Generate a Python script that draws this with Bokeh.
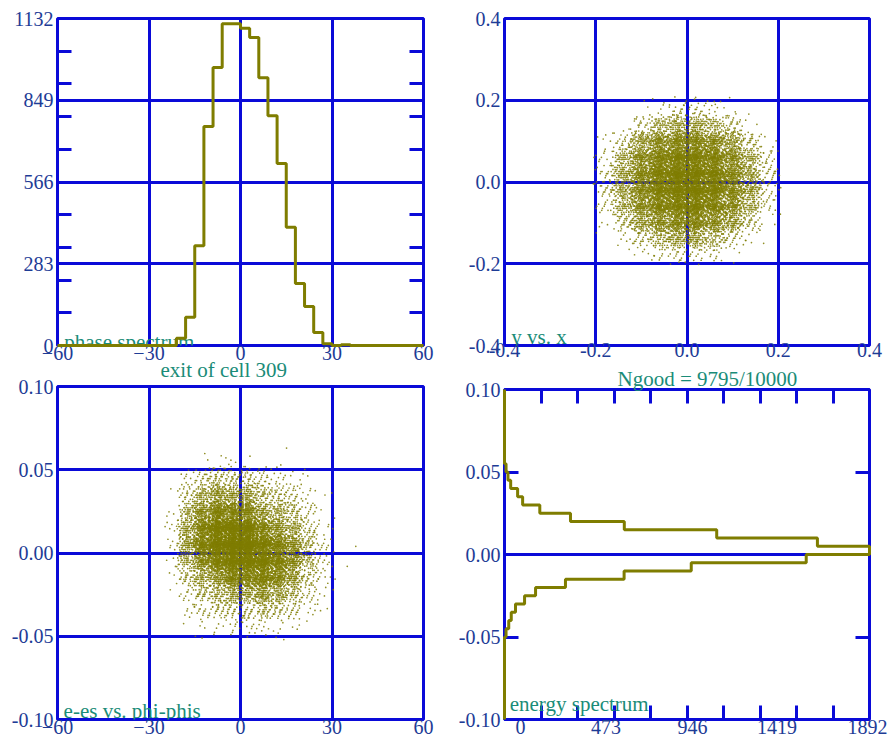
import numpy as np
from bokeh.plotting import figure
from bokeh.layouts import row, column
from bokeh.models import FixedTicker, LinearAxis, Label, Range1d, PrintfTickFormatter, Title
from bokeh.embed import file_html
from bokeh.resources import INLINE

# ---------------- data ----------------
# phase spectrum (degrees, 3-degree bins), counts
phase_bin_left = [-21, -18, -15, -12, -9, -6, -3, 0, 3, 6, 9, 12, 15, 18, 21, 24, 27, 30, 33]
phase_counts = [25, 98, 345, 758, 962, 1114, 1114, 1098, 1066, 927, 795, 630, 409, 215, 135, 45, 6, 0, 3]
phase_bin_width = 3
phase_ticks = [-60, -30, 0, 30, 60]
count_ticks = [0, 283, 566, 849, 1132]

# energy spectrum (e-es, 0.005 bins), counts
energy_bin_low = [-0.050, -0.045, -0.040, -0.035, -0.030, -0.025, -0.020, -0.015, -0.010, -0.005,
                  0.000, 0.005, 0.010, 0.015, 0.020, 0.025, 0.030, 0.035, 0.040, 0.045, 0.050]
energy_counts = [8, 22, 35, 57, 104, 161, 316, 620, 968, 1564,
                 1892, 1622, 1100, 621, 342, 183, 94, 68, 32, 18, 8]
energy_bin_width = 0.005
energy_ticks = [-0.10, -0.05, 0.00, 0.05, 0.10]
energy_count_ticks = [0, 473, 946, 1419, 1892]

# y vs x : particle counts per 0.04 x 0.04 cell (rows top -> bottom)
xy_x_low = [-0.20, -0.16, -0.12, -0.08, -0.04, 0.00, 0.04, 0.08, 0.12, 0.16]
xy_y_low = [0.16, 0.12, 0.08, 0.04, 0.00, -0.04, -0.08, -0.12, -0.16, -0.20]
xy_cell = 0.04
xy_counts = [
    [0, 0, 2, 8, 14, 16, 10, 3, 0, 0],
    [0, 3, 22, 60, 86, 92, 65, 27, 5, 0],
    [3, 27, 103, 163, 196, 200, 168, 108, 32, 4],
    [11, 70, 165, 245, 295, 300, 245, 165, 75, 13],
    [20, 92, 198, 290, 360, 365, 295, 200, 98, 22],
    [20, 92, 196, 295, 365, 365, 295, 196, 96, 20],
    [13, 74, 162, 240, 295, 297, 240, 164, 72, 11],
    [4, 32, 106, 160, 196, 198, 162, 104, 30, 3],
    [0, 5, 27, 62, 88, 90, 62, 24, 4, 0],
    [0, 0, 3, 9, 15, 15, 9, 2, 0, 0],
]
xy_outliers_x = [0.019, 0.062, -0.115, 0.168]
xy_outliers_y = [0.207, 0.190, -0.178, -0.150]
xy_ticks = [-0.4, -0.2, 0.0, 0.2, 0.4]

# e-es vs phi-phis : counts per 5 deg x 0.01 cell (rows top -> bottom)
ep_x_low = [-25, -20, -15, -10, -5, 0, 5, 10, 15, 20, 25]
ep_y_low = [0.05, 0.04, 0.03, 0.02, 0.01, 0.00, -0.01, -0.02, -0.03, -0.04, -0.05]
ep_dx = 5
ep_dy = 0.01
ep_counts = [
    [0, 0, 2, 3, 3, 2, 1, 1, 0, 0, 0],
    [0, 10, 25, 40, 34, 32, 18, 12, 7, 2, 0],
    [1, 27, 69, 110, 93, 88, 48, 34, 21, 7, 2],
    [3, 55, 137, 220, 186, 176, 96, 69, 41, 14, 3],
    [5, 86, 216, 345, 353, 334, 178, 127, 77, 26, 6],
    [6, 94, 235, 377, 484, 458, 301, 216, 130, 44, 11],
    [4, 62, 157, 251, 372, 352, 329, 235, 142, 48, 12],
    [2, 31, 78, 126, 205, 194, 233, 167, 100, 34, 9],
    [1, 14, 34, 55, 84, 79, 110, 78, 47, 16, 4],
    [0, 6, 15, 23, 28, 26, 41, 29, 17, 6, 2],
    [0, 1, 4, 6, 9, 9, 7, 5, 3, 1, 0],
]
ep_outliers_x = [35.0, 37.8, 15.1, -12.6, 14.2]
ep_outliers_y = [-0.008, 0.004, 0.063, -0.051, -0.052]

# ---------------- style ----------------
BLUE = "#0a0ad8"
OLIVE = "#7f7d00"
TICKC = "#1e3c96"
TEAL = "#1a8c78"
FONT = "Times New Roman"
SPREAD = 0.75  # tent half-width, in cells, used when laying out each cell's particles


def fill_cells(x_low, dx, y_low, dy, counts):
    """Spread each cell's count around the cell centre (deterministic quasi-random
    layout with a tent profile, so cell borders do not show)."""
    xs, ys = [], []
    a = [0.8566748838545029, 0.7338918566271260, 0.6287067210378086, 0.5385972572236101]
    idx = 0
    for r, y0 in enumerate(y_low):
        for c, x0 in enumerate(x_low):
            n = counts[r][c]
            k = np.arange(1, n + 1)
            s = [(idx * g) % 1.0 for g in (0.3819660113, 0.1324717957, 0.2360679775, 0.4142135624)]
            u = [(s[i] + k * a[i]) % 1.0 for i in range(4)]
            xs.extend(x0 + 0.5 * dx + SPREAD * dx * (u[0] + u[1] - 1.0))
            ys.extend(y0 + 0.5 * dy + SPREAD * dy * (u[2] + u[3] - 1.0))
            idx += 1
    return xs, ys


def style_axis(ax, size="20px", standoff=4):
    ax.axis_line_color = None
    ax.major_tick_in = 0
    ax.major_tick_out = 0
    ax.minor_tick_in = 0
    ax.minor_tick_out = 0
    ax.major_tick_line_color = BLUE
    ax.minor_tick_line_color = BLUE
    ax.major_tick_line_width = 3
    ax.minor_tick_line_width = 3
    ax.major_label_text_font = FONT
    ax.major_label_text_font_size = size
    ax.major_label_text_color = TICKC
    ax.major_label_standoff = standoff


def hidden_axis(ticker, standoff=0):
    ax = LinearAxis(ticker=ticker)
    style_axis(ax, size="0px", standoff=standoff)
    ax.major_label_text_alpha = 0
    return ax


def make_fig(w, h, xr, yr, bl, br, bt, bb, xstand=0):
    p = figure(width=w, height=h, x_range=xr, y_range=yr, output_backend="svg",
               toolbar_location=None, min_border_left=bl, min_border_right=br,
               min_border_top=bt, min_border_bottom=bb)
    p.outline_line_color = BLUE
    p.outline_line_width = 3
    p.outline_line_alpha = 1
    p.background_fill_color = "white"
    p.border_fill_color = "white"
    for ax in p.xaxis:
        style_axis(ax, standoff=xstand)
    for ax in p.yaxis:
        style_axis(ax, standoff=4)
    p.xgrid.grid_line_color = BLUE
    p.ygrid.grid_line_color = BLUE
    p.xgrid.grid_line_width = 3
    p.ygrid.grid_line_width = 3
    p.xgrid.grid_line_alpha = 1
    p.ygrid.grid_line_alpha = 1
    return p


def add_label(p, x, y, text):
    p.add_layout(Label(x=x, y=y, text=text, text_font=FONT, text_font_size="21px",
                       text_color=TEAL, text_align="left", text_baseline="alphabetic"))


def add_title(p, text, side, offset, standoff, valign):
    t = Title(text=text, align="left", offset=offset, standoff=standoff, vertical_align=valign,
              text_font=FONT, text_font_size="21px", text_color=TEAL, text_font_style="normal")
    p.add_layout(t, side)


def cloud(p, xs, ys):
    p.scatter(xs, ys, size=1.7, fill_color=OLIVE, line_color=None, fill_alpha=0.85, marker="circle")


# ---------------- panel 1 : phase spectrum ----------------
p1 = make_fig(445, 377, Range1d(phase_ticks[0], phase_ticks[-1]), Range1d(count_ticks[0], count_ticks[-1]),
              57, 22, 18, 32)
p1.xaxis.ticker = FixedTicker(ticks=phase_ticks)
count_minor = [count_ticks[-1] * k / 10 for k in range(1, 10)]
p1.yaxis.ticker = FixedTicker(ticks=count_ticks, minor_ticks=count_minor)
p1.yaxis.minor_tick_in = 14
p1.xgrid.ticker = FixedTicker(ticks=phase_ticks[1:-1])
p1.ygrid.ticker = FixedTicker(ticks=count_ticks[1:-1])
rax = hidden_axis(FixedTicker(ticks=count_ticks, minor_ticks=count_minor))
rax.minor_tick_in = 14
p1.add_layout(rax, "right")

hx, hy = [phase_ticks[0]], [0]
for left, c in zip(phase_bin_left, phase_counts):
    hx += [left, left, left + phase_bin_width]
    hy += [hy[-1], c, c]
hx += [hx[-1], phase_ticks[-1]]
hy += [0, 0]
p1.line(hx, hy, line_color=OLIVE, line_width=3, level="overlay")
add_label(p1, -57.8, 11, "phase spectrum")
add_title(p1, "exit of cell 309", "below", 103, -14, "bottom")

# ---------------- panel 2 : y vs x ----------------
p2 = make_fig(448, 365, Range1d(xy_ticks[0], xy_ticks[-1]), Range1d(xy_ticks[0], xy_ticks[-1]),
              59, 24, 18, 20, xstand=-3)
p2.xaxis.ticker = FixedTicker(ticks=xy_ticks)
p2.yaxis.ticker = FixedTicker(ticks=xy_ticks)
p2.xaxis.formatter = PrintfTickFormatter(format="%.1f")
p2.yaxis.formatter = PrintfTickFormatter(format="%.1f")
p2.xgrid.ticker = FixedTicker(ticks=xy_ticks[1:-1])
p2.ygrid.ticker = FixedTicker(ticks=xy_ticks[1:-1])
sx, sy = fill_cells(xy_x_low, xy_cell, xy_y_low, xy_cell, xy_counts)
cloud(p2, sx + xy_outliers_x, sy + xy_outliers_y)
add_label(p2, -0.385, -0.38, "y vs. x")

# ---------------- panel 3 : e-es vs phi-phis ----------------
p3 = make_fig(445, 366, Range1d(phase_ticks[0], phase_ticks[-1]), Range1d(energy_ticks[0], energy_ticks[-1]),
              57, 22, 9, 24)
p3.xaxis.ticker = FixedTicker(ticks=phase_ticks)
p3.yaxis.ticker = FixedTicker(ticks=energy_ticks)
p3.yaxis.formatter = PrintfTickFormatter(format="%.2f")
p3.xgrid.ticker = FixedTicker(ticks=phase_ticks[1:-1])
p3.ygrid.ticker = FixedTicker(ticks=energy_ticks[1:-1])
ex, ey = fill_cells(ep_x_low, ep_dx, ep_y_low, ep_dy, ep_counts)
cloud(p3, ex + ep_outliers_x, ey + ep_outliers_y)
add_label(p3, -58, -0.0946, "e-es vs. phi-phis")

# ---------------- panel 4 : energy spectrum ----------------
p4 = make_fig(448, 378, Range1d(energy_count_ticks[0], energy_count_ticks[-1]),
              Range1d(energy_ticks[0], energy_ticks[-1]), 59, 24, 21, 24)
count_minor4 = [energy_count_ticks[-1] * k / 10 for k in range(1, 10)]
label_pos4 = [83, 526, 975, 1413, 1882]  # where the original draws its count labels
p4.xaxis.ticker = FixedTicker(ticks=label_pos4, minor_ticks=count_minor4)
p4.xaxis.major_label_overrides = {pos: str(t) for pos, t in zip(label_pos4, energy_count_ticks)}
p4.xaxis.minor_tick_in = 14
p4.yaxis.ticker = FixedTicker(ticks=energy_ticks)
p4.yaxis.formatter = PrintfTickFormatter(format="%.2f")
p4.yaxis.major_tick_in = 14
p4.xgrid.grid_line_color = None
p4.ygrid.ticker = FixedTicker(ticks=[0.0])
tax = hidden_axis(FixedTicker(ticks=[], minor_ticks=count_minor4), standoff=0)
tax.minor_tick_in = 14
p4.add_layout(tax, "above")
rax4 = hidden_axis(FixedTicker(ticks=energy_ticks))
rax4.major_tick_in = 14
p4.add_layout(rax4, "right")

vx, vy = [0, 0], [energy_ticks[-1], energy_bin_low[-1] + energy_bin_width]
for low, c in reversed(list(zip(energy_bin_low, energy_counts))):
    vx += [c, c]
    vy += [low + energy_bin_width, low]
vx += [0, 0]
vy += [energy_bin_low[0], energy_ticks[0]]
p4.line(vx, vy, line_color=OLIVE, line_width=3, level="overlay")
add_label(p4, 27, -0.0906, "energy spectrum")
add_title(p4, "Ngood = 9795/10000", "above", 113, -2, "bottom")

layout = row(column(p1, p3), column(p2, p4))
open("out.html", "w").write(file_html(layout, INLINE))
